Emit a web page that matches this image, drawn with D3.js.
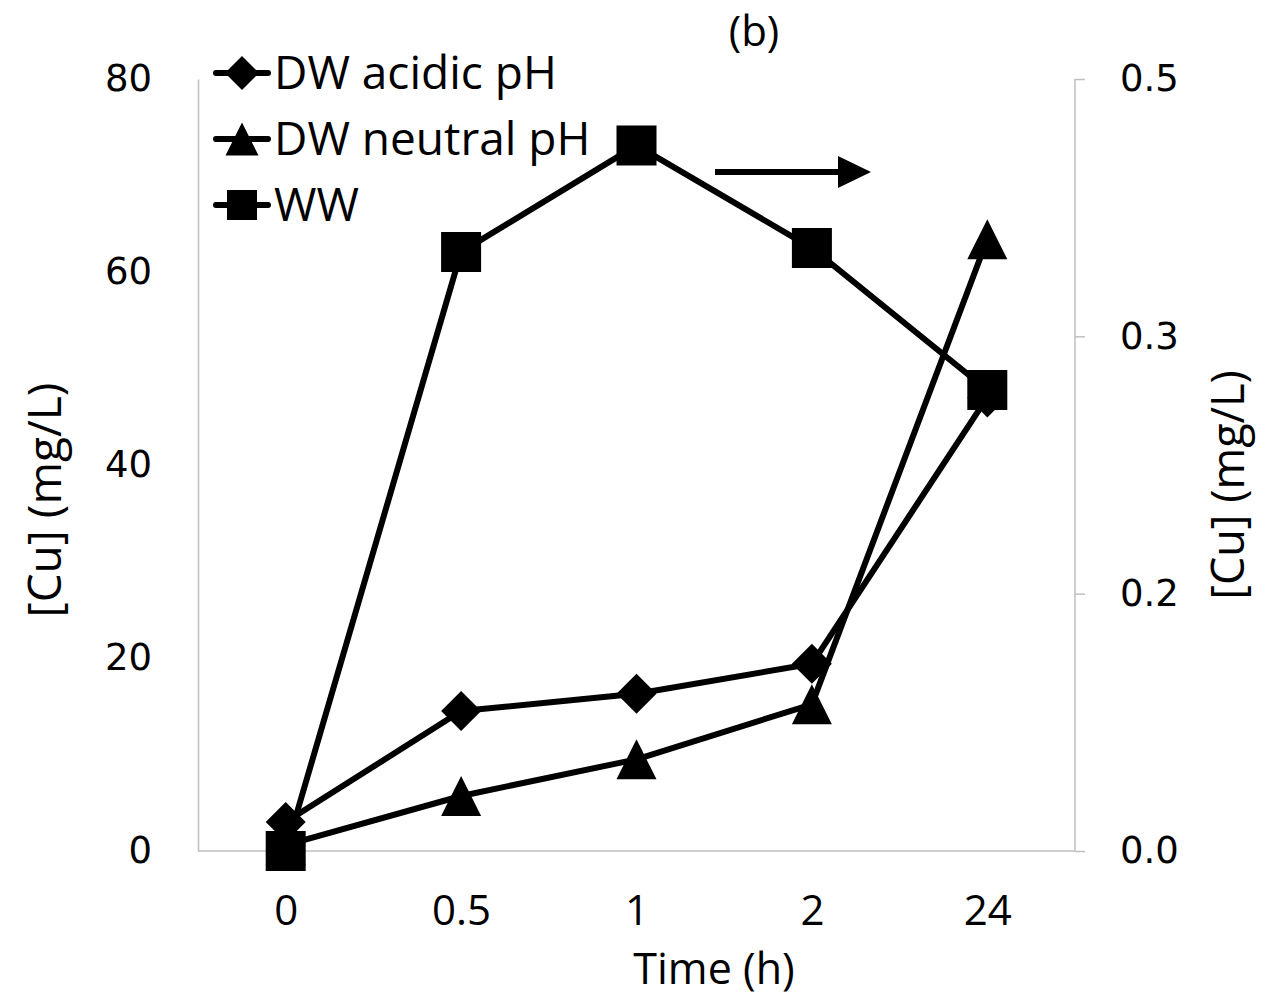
<!DOCTYPE html>
<html><head><meta charset="utf-8">
<script src="https://cdn.jsdelivr.net/npm/d3@7"></script>
<style>body{margin:0;background:#fff}svg{display:block}</style>
</head><body>
<svg id="c" width="1274" height="997"></svg>
<script>
const categories = ["0","0.5","1","2","24"];
const dwAcidic = [3.0, 14.5, 16.3, 19.4, 47.0];
const dwNeutral = [0.6, 5.7, 9.5, 15.2, 63.4];
const ww = [0.0, 0.388, 0.457, 0.3905, 0.2986];
const leftTicks = [0, 20, 40, 60, 80];
const rightTicks = [0, 1/6, 2/6, 3/6];
const seriesNames = ["DW acidic pH", "DW neutral pH", "WW"];

const svg = d3.select("#c");
const L = 198, R = 1075, T = 79, B = 851;
const x = d3.scalePoint().domain(categories).range([L, R]).padding(0.5);
const yL = d3.scaleLinear().domain([0, 80]).range([B, T]);
const yR = d3.scaleLinear().domain([0, 0.5]).range([B, T]);
const grey = "#bfbfbf";

// axes
const gL = svg.append("g").attr("transform", `translate(${L},0)`)
  .call(d3.axisLeft(yL).tickValues(leftTicks).tickSize(0).tickPadding(46));
gL.select(".domain").attr("stroke", grey).attr("stroke-width", 1.5);
gL.selectAll("text").attr("font-family", "DejaVu Sans").attr("font-size", 37).attr("fill", "#000");

const gR = svg.append("g").attr("transform", `translate(${R},0)`)
  .call(d3.axisRight(yR).tickValues(rightTicks).tickSize(10).tickPadding(35).tickFormat(d3.format(".1f")));
gR.select(".domain").attr("stroke", grey).attr("stroke-width", 1.5).attr("d", `M0,${T}V${B}`);
gR.selectAll("line").attr("stroke", grey).attr("stroke-width", 1.5);
gR.selectAll("text").attr("font-family", "DejaVu Sans").attr("font-size", 37).attr("fill", "#000");

const gX = svg.append("g").attr("transform", `translate(0,${B})`)
  .call(d3.axisBottom(x).tickSize(0).tickPadding(0));
gX.select(".domain").attr("stroke", grey).attr("stroke-width", 1.5).attr("d", `M${L},0H${R}`);
gX.selectAll("text").attr("dy", null).attr("y", 74)
  .attr("font-family", "Open Sans").attr("font-size", 42).attr("fill", "#000");

// titles
const tf = "Open Sans";
svg.append("text").attr("x", 714).attr("y", 984).attr("text-anchor", "middle")
  .attr("font-family", tf).attr("font-size", 43).text("Time (h)");
svg.append("text").attr("transform", "translate(61,500) rotate(-90)").attr("text-anchor", "middle")
  .attr("font-family", tf).attr("font-size", 46).text("[Cu] (mg/L)");
svg.append("text").attr("transform", "translate(1244,485) rotate(-90)").attr("text-anchor", "middle")
  .attr("font-family", tf).attr("font-size", 45).text("[Cu] (mg/L)");
svg.append("text").attr("x", 754).attr("y", 46).attr("text-anchor", "middle")
  .attr("font-family", tf).attr("font-size", 42).text("(b)");

// series
const symSize = [40, 40, 40];
function marker(i, s) {
  if (i === 0) return `M0,${-s/2}L${s/2},0L0,${s/2}L${-s/2},0Z`;
  if (i === 1) return `M0,${-s/2}L${s/2},${s/2}L${-s/2},${s/2}Z`;
  return `M${-s/2},${-s/2}H${s/2}V${s/2}H${-s/2}Z`;
}
const data = [
  {vals: dwAcidic, y: yL},
  {vals: dwNeutral, y: yL},
  {vals: ww, y: yR}
];
data.forEach((d, i) => {
  const pts = d.vals.map((v, k) => [x(categories[k]), d.y(v)]);
  svg.append("path").attr("d", d3.line()(pts)).attr("fill", "none")
    .attr("stroke", "#000").attr("stroke-width", 6).attr("stroke-linejoin", "round");
  svg.append("g").selectAll("path").data(pts).join("path")
    .attr("transform", p => `translate(${p[0]},${p[1]})`)
    .attr("d", marker(i, symSize[i])).attr("fill", "#000");
});

// legend
const legY = [73, 139, 205];
const legSize = [34, 33, 30];
seriesNames.forEach((n, i) => {
  const g = svg.append("g").attr("transform", `translate(0,${legY[i]})`);
  g.append("line").attr("x1", 216).attr("x2", 268).attr("stroke", "#000").attr("stroke-width", 6).attr("stroke-linecap", "round");
  g.append("path").attr("transform", "translate(242,0)").attr("d", marker(i, legSize[i])).attr("fill", "#000");
  g.append("text").attr("x", 274).attr("y", 16).attr("font-family", tf).attr("font-size", 46).text(n);
});

// arrow
svg.append("line").attr("x1", 715).attr("x2", 842).attr("y1", 172).attr("y2", 172)
  .attr("stroke", "#000").attr("stroke-width", 6);
svg.append("path").attr("d", "M838,156L871,172L838,188Z").attr("fill", "#000");
</script>
</body></html>
